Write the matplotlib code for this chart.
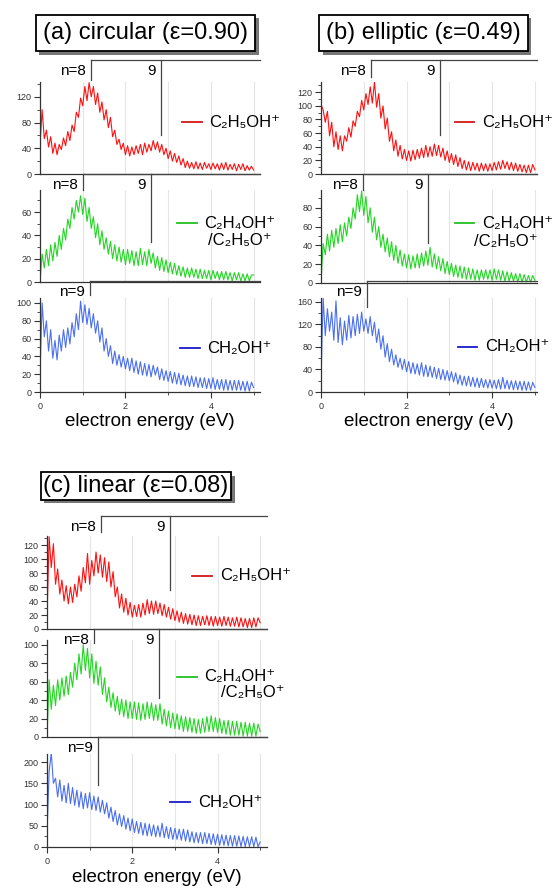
import numpy as np
import matplotlib
matplotlib.use('Agg')
import matplotlib.pyplot as plt
from matplotlib.ticker import MultipleLocator
from matplotlib.patheffects import SimplePatchShadow, Normal

plt.rcParams['font.family'] = ['Liberation Sans', 'DejaVu Sans']

########################## Dados (passo de 0.05 eV) ##########################
energy = np.linspace(0, 5, 101)

# (a) circular
circ_c2h5oh = [45, 100, 55, 68, 42, 58, 32, 48, 30, 46, 38, 56, 44, 66, 52, 76, 66, 96, 88, 118,
               106, 136, 114, 142, 120, 136, 108, 126, 96, 112, 84, 100, 72, 88, 58, 68, 46, 54, 38, 48,
               30, 44, 28, 42, 30, 44, 32, 46, 30, 48, 34, 46, 36, 52, 38, 50, 34, 46, 30, 40,
               24, 36, 20, 32, 18, 28, 14, 24, 10, 20, 9, 18, 8, 19, 8, 17, 7, 18, 9, 16,
               7, 17, 8, 16, 6, 17, 7, 18, 6, 15, 7, 16, 5, 15, 7, 16, 5, 13, 6, 12, 6]
circ_c2h4oh = [0, 24, 12, 28, 14, 32, 18, 34, 22, 40, 28, 46, 36, 54, 46, 64, 54, 70, 60, 74,
               58, 72, 52, 64, 46, 56, 38, 50, 32, 44, 28, 38, 24, 35, 20, 32, 18, 30, 17, 28,
               15, 28, 16, 27, 14, 26, 14, 29, 15, 26, 14, 28, 16, 25, 12, 22, 10, 21, 9, 19,
               8, 17, 7, 16, 6, 14, 5, 13, 4, 12, 4, 12, 4, 11, 3, 11, 3, 10, 3, 10,
               2, 10, 3, 9, 2, 9, 2, 9, 2, 8, 1, 8, 2, 8, 1, 7, 1, 7, 1, 6, 6]
circ_ch2oh = [20, 100, 62, 80, 46, 70, 38, 58, 36, 64, 46, 70, 50, 72, 54, 78, 62, 88, 70, 102,
              78, 98, 76, 94, 72, 88, 66, 80, 56, 72, 46, 60, 40, 52, 32, 46, 30, 42, 28, 40,
              26, 38, 24, 38, 22, 35, 20, 34, 19, 32, 18, 31, 17, 30, 19, 28, 14, 26, 13, 24,
              12, 23, 10, 22, 9, 21, 8, 19, 7, 18, 6, 18, 6, 17, 5, 16, 5, 16, 4, 15,
              4, 16, 3, 14, 3, 14, 2, 14, 2, 13, 2, 13, 2, 13, 2, 12, 1, 12, 1, 11, 5]

# (b) elliptic
ell_c2h5oh = [102, 94, 76, 92, 56, 76, 40, 62, 36, 56, 34, 56, 48, 68, 54, 78, 70, 92, 84, 108,
              94, 118, 102, 128, 104, 135, 98, 118, 82, 100, 66, 82, 48, 62, 34, 50, 26, 42, 22, 36,
              20, 34, 19, 35, 21, 36, 23, 38, 24, 42, 25, 40, 26, 44, 27, 42, 25, 38, 20, 34,
              17, 30, 14, 28, 11, 24, 8, 20, 6, 18, 5, 17, 6, 16, 4, 16, 5, 15, 4, 15,
              5, 17, 6, 18, 7, 20, 8, 18, 6, 17, 5, 16, 4, 14, 3, 13, 2, 13, 2, 14, 6]
ell_c2h4oh = [0, 42, 30, 52, 34, 56, 38, 58, 42, 62, 44, 64, 50, 70, 58, 80, 68, 94, 76, 98,
              72, 92, 64, 80, 54, 70, 46, 60, 38, 52, 33, 48, 28, 44, 24, 40, 21, 35, 18, 31,
              16, 30, 15, 29, 16, 31, 16, 32, 18, 34, 19, 38, 17, 31, 15, 28, 13, 26, 10, 23,
              9, 21, 7, 19, 6, 18, 5, 17, 4, 16, 4, 15, 3, 14, 3, 14, 4, 14, 4, 14,
              3, 15, 4, 14, 3, 13, 2, 12, 2, 11, 2, 10, 1, 10, 1, 9, 1, 8, 1, 8, 3]
ell_ch2oh = [20, 168, 100, 148, 108, 142, 92, 162, 88, 132, 84, 126, 92, 136, 96, 134, 100, 138, 104, 142,
             108, 130, 104, 134, 100, 124, 88, 112, 76, 100, 62, 86, 54, 76, 48, 66, 44, 60, 40, 58,
             36, 54, 33, 52, 32, 50, 30, 52, 28, 48, 27, 46, 26, 44, 24, 42, 22, 40, 21, 38,
             20, 36, 18, 34, 14, 30, 12, 28, 11, 28, 10, 26, 9, 25, 8, 24, 8, 22, 7, 22,
             7, 21, 6, 22, 5, 26, 6, 21, 5, 20, 4, 20, 4, 19, 3, 19, 3, 18, 3, 17, 8]

# (c) linear
lin_c2h5oh = [15, 132, 88, 122, 64, 86, 50, 70, 40, 62, 36, 60, 38, 64, 46, 76, 54, 88, 66, 108,
              64, 98, 76, 110, 80, 106, 74, 102, 68, 96, 60, 82, 46, 60, 30, 50, 24, 44, 20, 38,
              17, 34, 18, 35, 17, 37, 20, 42, 22, 40, 21, 40, 22, 37, 19, 35, 17, 31, 14, 29,
              12, 26, 10, 24, 8, 22, 7, 21, 6, 20, 5, 19, 5, 18, 6, 19, 5, 18, 4, 18,
              5, 17, 4, 18, 5, 17, 4, 16, 4, 17, 3, 16, 3, 15, 2, 15, 2, 16, 3, 16, 9]
lin_c2h4oh = [0, 62, 30, 56, 34, 62, 40, 64, 44, 66, 46, 70, 54, 80, 62, 90, 68, 100, 72, 96,
              64, 90, 58, 82, 56, 76, 46, 64, 38, 54, 32, 48, 28, 44, 24, 41, 22, 40, 20, 38,
              20, 38, 19, 37, 18, 36, 19, 38, 20, 37, 18, 35, 18, 36, 14, 30, 12, 28, 10, 26,
              9, 25, 8, 23, 6, 22, 6, 21, 5, 20, 4, 19, 4, 20, 5, 22, 6, 23, 6, 21,
              5, 20, 4, 18, 3, 18, 2, 17, 2, 17, 2, 16, 1, 16, 1, 15, 1, 15, 1, 14, 6]
lin_ch2oh = [30, 178, 222, 150, 162, 118, 158, 108, 145, 104, 150, 102, 140, 98, 134, 94, 130, 90, 126, 92,
             128, 88, 120, 86, 118, 82, 110, 78, 104, 68, 94, 60, 86, 52, 78, 48, 74, 42, 68, 38,
             66, 34, 60, 32, 58, 28, 56, 26, 54, 26, 52, 24, 50, 24, 56, 22, 48, 20, 46, 18,
             44, 18, 42, 16, 42, 14, 40, 12, 36, 10, 34, 10, 34, 8, 34, 8, 32, 6, 31, 5,
             30, 4, 29, 4, 28, 3, 27, 2, 27, 2, 26, 1, 25, 1, 24, 1, 24, 1, 23, 1, 12]

# posições das linhas de Rydberg (n=8, 9) em eV
comb_a = [(1.19, 2.83), (1.00, 2.60), (1.17,)]
comb_b = [(1.17, 2.78), (0.98, 2.50), (1.07,)]
comb_c = [(1.27, 2.89), (1.10, 2.63), (1.20,)]

titles = ['(a) circular (ε=0.90)', '(b) elliptic (ε=0.49)', '(c) linear (ε=0.08)']
ion_labels = ['C₂H₅OH⁺', 'C₂H₄OH⁺', 'CH₂OH⁺']
ion_label2 = '/C₂H₅O⁺'
trace_colors = ['#ff1010', '#22d622', '#4a6ff0']
legend_colors = ['#d01818', '#22c022', '#1a1acc']
############################################################################################

W, H = 555, 889
fig = plt.figure(figsize=(W / 100, H / 100), dpi=100)


def add_ax(x0, x1, y0, y1):
    ax = fig.add_axes([x0 / W, 1 - y1 / H, (x1 - x0) / W, (y1 - y0) / H])
    ax.patch.set_alpha(0)
    return ax


# layout de cada painel: x em px, (topo, base) de cada eixo em px, xmax, ymax, ticks, comb
panels = [
    dict(x=(40, 260), rows=[(82, 174), (190, 282), (298, 392)], xmax=5.15,
         ymax=[143, 79, 105.6], major=[40, 20, 20], minor=[20, 10, 10],
         combs=comb_a, comb_y=[(177.6, 146, 61), (92.5, 79, 34), (125, 109)],
         leg=[(0.645, 0.565), (0.623, 0.64), (0.636, 0.468)], leg2=(1.055, 0.446),
         traces=[circ_c2h5oh, circ_c2h4oh, circ_ch2oh], title_xy=(145.5, 33), pad=0.3),
    dict(x=(321, 537), rows=[(82, 174), (190, 283), (298, 392)], xmax=5.05,
         ymax=[135, 99, 167], major=[20, 20, 40], minor=[10, 10, 20],
         combs=comb_b, comb_y=[(167, 142, 57), (116, 99, 42.5), (197, 151)],
         leg=[(0.62, 0.565), (0.62, 0.645), (0.634, 0.48)], leg2=(1.005, 0.45),
         traces=[ell_c2h5oh, ell_c2h4oh, ell_ch2oh], title_xy=(423.5, 33), pad=0.3),
    dict(x=(47, 267), rows=[(536, 629), (640, 737), (754, 847)], xmax=5.16,
         ymax=[133, 105, 219], major=[20, 20, 50], minor=[10, 10, 25],
         combs=comb_c, comb_y=[(161, 139, 56), (117, 102, 42), (259, 146)],
         leg=[(0.66, 0.57), (0.59, 0.62), (0.56, 0.48)], leg2=(1.08, 0.46),
         traces=[lin_c2h5oh, lin_c2h4oh, lin_ch2oh], title_xy=(136, 486), pad=0.12),
]

for p, title in zip(panels, titles):
    x0, x1 = p['x']
    for i, (y0, y1) in enumerate(p['rows']):
        ax = add_ax(x0, x1, y0, y1)
        ax.plot(energy, p['traces'][i], color=trace_colors[i], lw=0.8)
        ax.set_xlim(0, p['xmax'])
        ax.set_ylim(0, p['ymax'][i])
        for s in ['top', 'right']:
            ax.spines[s].set_visible(False)
        for s in ['left', 'bottom']:
            ax.spines[s].set_color('#333333')
            ax.spines[s].set_linewidth(0.9)
        ax.yaxis.set_major_locator(MultipleLocator(p['major'][i]))
        ax.yaxis.set_minor_locator(MultipleLocator(p['minor'][i]))
        ax.xaxis.set_major_locator(MultipleLocator(2))
        ax.xaxis.set_minor_locator(MultipleLocator(1))
        ax.grid(axis='x', which='both', color='#e4e4e4', lw=0.8)
        ax.set_axisbelow(True)
        ax.tick_params(axis='y', which='major', length=4, width=0.8, labelsize=6.5,
                       labelcolor='#333333', color='#333333', pad=2)
        ax.tick_params(axis='y', which='minor', length=2, width=0.6, color='#333333')
        if i < 2:
            ax.tick_params(axis='x', which='both', length=0, labelbottom=False)
        else:
            ax.tick_params(axis='x', which='major', length=4, width=0.8, labelsize=6.5,
                           labelcolor='#333333', color='#333333', pad=3)
            ax.tick_params(axis='x', which='minor', length=2, width=0.6, color='#333333')
            ax.set_xlabel('electron energy (eV)', fontsize=13.5, labelpad=2)

        # linhas de Rydberg
        xs = p['combs'][i]
        yc = p['comb_y'][i]
        names = ['n=8', '9'] if len(xs) == 2 else ['n=9']
        ax.plot([xs[0], p['xmax']], [yc[0], yc[0]], color='#444444', lw=0.9, clip_on=False)
        for k, xv in enumerate(xs):
            ax.plot([xv, xv], [yc[0], yc[k + 1]], color='#444444', lw=0.9, clip_on=False)
            ax.annotate(names[k], xy=(xv, yc[0]), xytext=(-5, -11), textcoords='offset pixels',
                        ha='right', va='center', fontsize=11, annotation_clip=False)

        # legenda
        lx, ly = p['leg'][i]
        ax.plot([lx, lx + 0.09], [ly, ly], color=legend_colors[i], lw=1.3,
                transform=ax.transAxes, clip_on=False)
        ax.text(lx + 0.125, ly, ion_labels[i], transform=ax.transAxes, ha='left',
                va='center', fontsize=12)
        if i == 1:
            ax.text(p['leg2'][0], p['leg2'][1], ion_label2, transform=ax.transAxes,
                    ha='right', va='center', fontsize=12)

    tx, ty = p['title_xy']
    t = fig.text(tx / W, 1 - ty / H, title, ha='center', va='center', fontsize=17,
                 bbox=dict(boxstyle='square,pad=%.2f' % p['pad'], fc='white', ec='black', lw=1.3))
    t.get_bbox_patch().set_path_effects([SimplePatchShadow(offset=(2.5, -2.5),
                                                           shadow_rgbFace='#777777', alpha=1),
                                         Normal()])

fig.savefig('out.png', dpi=100)
